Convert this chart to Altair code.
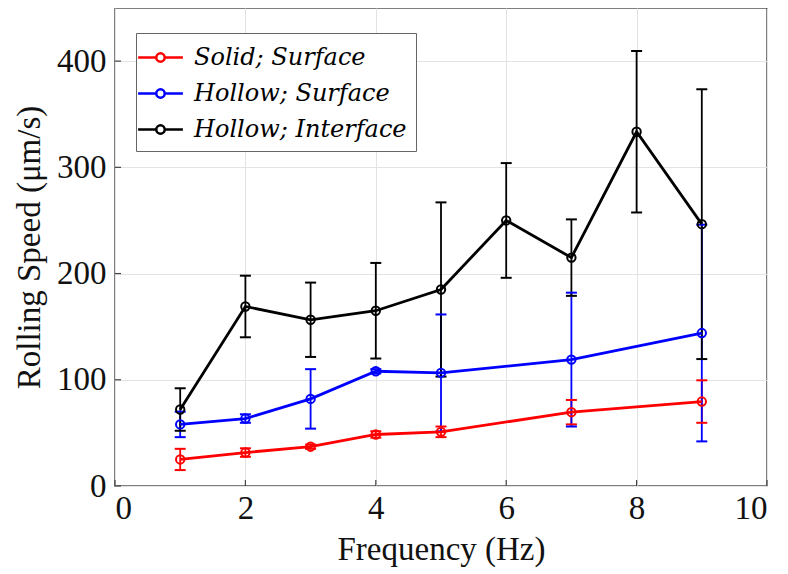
import altair as alt
import pandas as pd

series_names = ["Solid; Surface", "Hollow; Surface", "Hollow; Interface"]
series_colors = ["#ff0000", "#0000ff", "#000000"]

solid_freq = [1, 2, 3, 4, 5, 7, 9]
solid_mean = [25, 31.5, 37, 48.5, 51, 69.5, 79.5]
solid_err = [10, 4, 2, 3, 5, 11.5, 20]

hsurf_freq = [1, 2, 3, 4, 5, 7, 9]
hsurf_mean = [58, 63.5, 82, 108, 106.5, 119, 144]
hsurf_err = [12, 4, 28, 2, 55, 63, 102]

hint_freq = [1, 2, 3, 4, 5, 6, 7, 8, 9]
hint_mean = [72, 169, 156.5, 165, 185, 250, 215, 333.5, 246.5]
hint_err = [20, 29, 35, 45, 82, 54, 36, 76, 127]

x_ticks = [0, 2, 4, 6, 8, 10]
y_ticks = [0, 100, 200, 300, 400]

rows = []
for name, fr, mn, er in [
    (series_names[0], solid_freq, solid_mean, solid_err),
    (series_names[1], hsurf_freq, hsurf_mean, hsurf_err),
    (series_names[2], hint_freq, hint_mean, hint_err),
]:
    for f, m, e in zip(fr, mn, er):
        rows.append({"series": name, "freq": f, "speed": m, "lo": m - e, "hi": m + e})
df = pd.DataFrame(rows)

W, H = 652, 478
FONT = "Liberation Serif"

xs = alt.Scale(domain=[0, 10], nice=False, zero=False)
ys = alt.Scale(domain=[0, 450], nice=False, zero=False)

legend_path = ("M-1.6,0L-0.3,0M0.3,0L1.6,0"
               "M0.3,0A0.3,0.3,0,1,1,-0.3,0A0.3,0.3,0,1,1,0.3,0")

leg = alt.Legend(
    title=None, orient="none", legendX=21, legendY=25,
    symbolType=legend_path, symbolSize=784, symbolStrokeWidth=2.5,
    symbolFillColor="transparent", symbolOpacity=1,
    labelFont="DejaVu Serif", labelFontStyle="italic", labelFontSize=24,
    labelColor="#000", labelOffset=18, rowPadding=8,
    padding=9, strokeColor="#666", fillColor="white",
    labelLimit=400,
)
cs = alt.Scale(domain=series_names, range=series_colors)
col = alt.Color("series:N", scale=cs, legend=leg)

xax = alt.Axis(values=x_ticks, format="d", title="Frequency (Hz)", ticks=False,
               labelPadding=6, titlePadding=8, grid=True)
yax = alt.Axis(values=y_ticks, format="d", title="Rolling Speed (μm/s)", ticks=False,
               labelPadding=9, titlePadding=10, grid=True)

base = alt.Chart(df)

rules = base.mark_rule(strokeWidth=1.8).encode(
    x=alt.X("freq:Q", scale=xs, axis=xax),
    y=alt.Y("lo:Q", scale=ys, axis=yax),
    y2="hi:Q",
    color=col,
)

caps_lo = base.mark_rule(strokeWidth=2, xOffset=-5.5, x2Offset=5.5).encode(
    x="freq:Q", x2="freq:Q", y="lo:Q", color=col
)
caps_hi = base.mark_rule(strokeWidth=2, xOffset=-5.5, x2Offset=5.5).encode(
    x="freq:Q", x2="freq:Q", y="hi:Q", color=col
)

lines = base.mark_line(strokeWidth=2.8).encode(
    x="freq:Q", y="speed:Q", color=col
)

points = base.mark_point(filled=False, size=70, strokeWidth=2, opacity=1).encode(
    x="freq:Q", y="speed:Q", color=col
)

tick_x_df = pd.DataFrame({"t": x_ticks})
tick_y_df = pd.DataFrame({"t": y_ticks})
xt = alt.Chart(tick_x_df).mark_rule(color="#444", strokeWidth=1.2).encode(
    x=alt.X("t:Q", scale=xs), y=alt.value(H), y2=alt.value(H - 6)
)
yt = alt.Chart(tick_y_df).mark_rule(color="#444", strokeWidth=1.2).encode(
    y=alt.Y("t:Q", scale=ys), x=alt.value(0), x2=alt.value(6)
)

chart = alt.layer(xt, yt, rules, caps_lo, caps_hi, lines, points).properties(
    width=W, height=H,
    padding={"left": 5, "top": 0, "right": 2, "bottom": 5},
).configure_view(
    stroke="#555", strokeWidth=1.5
).configure_axis(
    domain=False, gridColor="#e3e3e3", gridWidth=1,
    labelFont=FONT, labelFontSize=33, labelColor="#111",
    titleFont=FONT, titleFontSize=33, titleFontWeight="normal", titleColor="#111",
)

chart.save("out.html", embed_options={"renderer": "svg", "actions": False})
